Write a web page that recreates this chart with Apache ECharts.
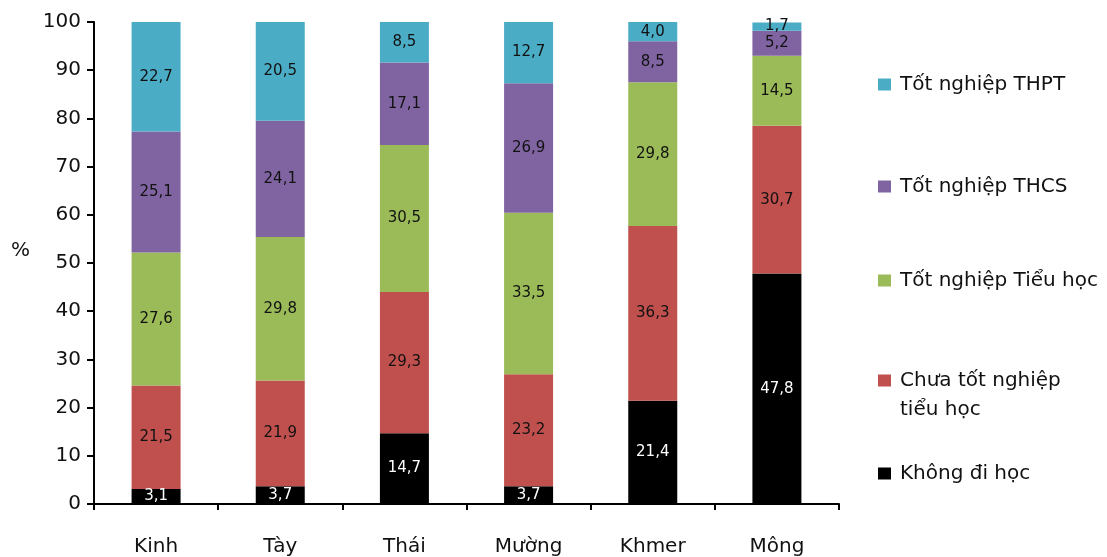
<!DOCTYPE html>
<html>
<head>
<meta charset="utf-8">
<script src="https://cdn.jsdelivr.net/npm/echarts@6/dist/echarts.min.js"></script>
<style>
  html, body { margin: 0; padding: 0; background: #fff; }
  #chart { width: 1107px; height: 557px; }
</style>
</head>
<body>
<div id="chart"></div>
<script>
// Ethnic groups on the x axis
const categories = ['Kinh', 'Tày', 'Thái', 'Mường', 'Khmer', 'Mông'];

// Share of each education level (%) per group, bottom to top of the stack
const khongDiHoc    = [3.1, 3.7, 14.7, 3.7, 21.4, 47.8];
const chuaTotNghiep = [21.5, 21.9, 29.3, 23.2, 36.3, 30.7];
const tieuHoc       = [27.6, 29.8, 30.5, 33.5, 29.8, 14.5];
const thcs          = [25.1, 24.1, 17.1, 26.9, 8.5, 5.2];
const thpt          = [22.7, 20.5, 8.5, 12.7, 4.0, 1.7];

const seriesNames = ['Không đi học', 'Chưa tốt nghiệp tiểu học', 'Tốt nghiệp Tiểu học', 'Tốt nghiệp THCS', 'Tốt nghiệp THPT'];
const seriesData = [khongDiHoc, chuaTotNghiep, tieuHoc, thcs, thpt];
const colors = ['#000000', '#C0504D', '#9BBB59', '#8064A2', '#4BACC6'];

const yTicks = [0, 10, 20, 30, 40, 50, 60, 70, 80, 90, 100];

const FONT = '"DejaVu Sans", "Noto Sans", sans-serif';

// Vietnamese decimal comma
const fmt = v => v.toFixed(1).replace('.', ',');

const series = seriesData.map((data, i) => ({
  name: seriesNames[i],
  type: 'bar',
  stack: 'total',
  barWidth: 49,
  data: data,
  itemStyle: { color: colors[i] },
  label: {
    show: true,
    position: 'inside',
    fontFamily: FONT,
    fontSize: 15,
    color: i === 0 ? '#ffffff' : '#111111',
    formatter: p => fmt(p.value)
  }
}));

// One legend block per level so each can sit on its own row.
// The two-line entry gets a blank line on top so the swatch lines up with its first line.
const legendRows = [
  { name: 'Tốt nghiệp THPT', top: 65 },
  { name: 'Tốt nghiệp THCS', top: 167 },
  { name: 'Tốt nghiệp Tiểu học', top: 261 },
  { name: 'Chưa tốt nghiệp tiểu học', top: 332, text: ' \nChưa tốt nghiệp\ntiểu học' },
  { name: 'Không đi học', top: 454 }
];

const legends = legendRows.map(r => ({
  data: [r.name],
  left: 873,
  top: r.top,
  orient: 'vertical',
  icon: 'rect',
  itemWidth: 13,
  itemHeight: 12,
  itemGap: 0,
  selectedMode: false,
  formatter: () => r.text || r.name,
  textStyle: {
    fontFamily: FONT,
    fontSize: 20,
    color: '#111111',
    lineHeight: 29,
    padding: [0, 0, 0, 4]
  }
}));

const chart = echarts.init(document.getElementById('chart'), null, { renderer: 'canvas' });
chart.setOption({
  animation: false,
  backgroundColor: '#ffffff',
  legend: legends,
  grid: { left: 94, right: 268, top: 22, bottom: 53, containLabel: false },
  xAxis: {
    type: 'category',
    data: categories,
    axisLine: { lineStyle: { color: '#000', width: 2 } },
    axisTick: { show: true, length: 6, lineStyle: { color: '#000', width: 2 } },
    axisLabel: { fontFamily: FONT, fontSize: 20, color: '#111', margin: 33 }
  },
  yAxis: {
    type: 'value',
    min: yTicks[0],
    max: yTicks[yTicks.length - 1],
    interval: 10,
    name: '%',
    nameLocation: 'middle',
    nameRotate: 0,
    nameGap: 64,
    nameTextStyle: { fontFamily: FONT, fontSize: 20, color: '#111', verticalAlign: 'bottom', lineHeight: 24 },
    axisLine: { show: true, lineStyle: { color: '#000', width: 2 } },
    axisTick: { show: true, length: 7, lineStyle: { color: '#000', width: 2 } },
    splitLine: { show: false },
    axisLabel: { fontFamily: FONT, fontSize: 20, color: '#111', margin: 13 }
  },
  series: series
});
</script>
</body>
</html>
